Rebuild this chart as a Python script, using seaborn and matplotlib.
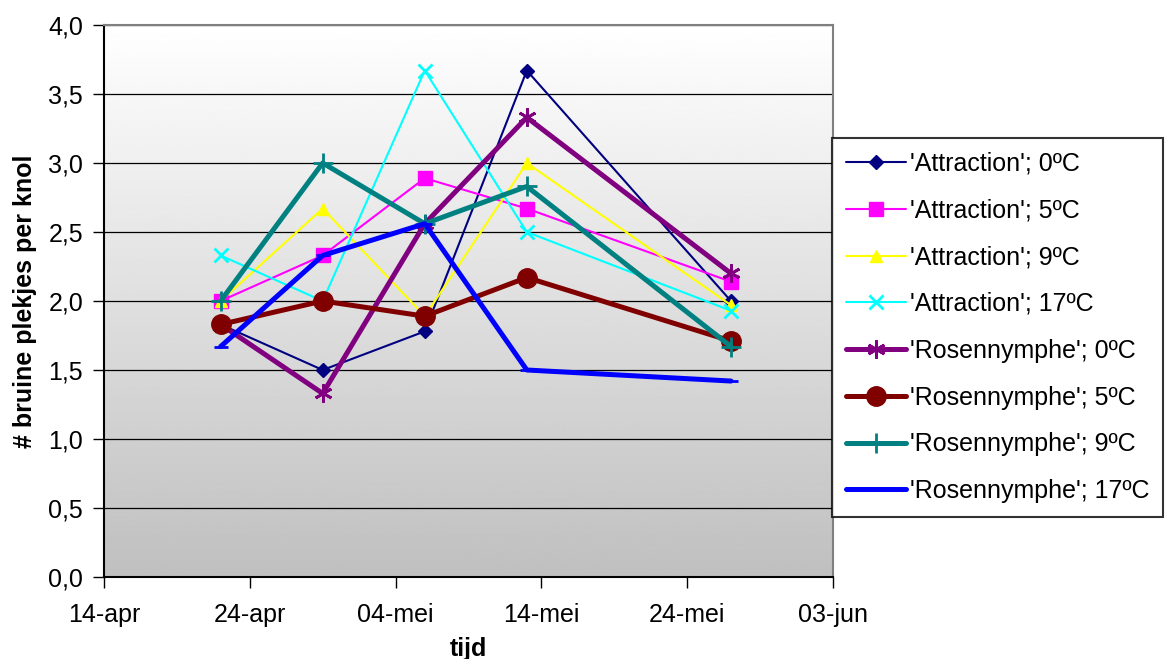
import numpy as np
import pandas as pd
import seaborn as sns
import matplotlib.pyplot as plt
from matplotlib.ticker import FuncFormatter, MultipleLocator

dates = pd.to_datetime(["2008-04-22", "2008-04-29", "2008-05-06", "2008-05-13", "2008-05-27"])

series_names = ["'Attraction'; 0ºC", "'Attraction'; 5ºC", "'Attraction'; 9ºC", "'Attraction'; 17ºC",
                "'Rosennymphe'; 0ºC", "'Rosennymphe'; 5ºC", "'Rosennymphe'; 9ºC", "'Rosennymphe'; 17ºC"]
attr_0 = [1.83, 1.50, 1.78, 3.67, 2.00]
attr_5 = [2.00, 2.33, 2.89, 2.67, 2.14]
attr_9 = [2.00, 2.67, 1.89, 3.00, 1.97]
attr_17 = [2.33, 2.00, 3.67, 2.50, 1.93]
rose_0 = [1.83, 1.33, 2.56, 3.33, 2.20]
rose_5 = [1.83, 2.00, 1.89, 2.17, 1.71]
rose_9 = [2.00, 3.00, 2.56, 2.83, 1.67]
rose_17 = [1.67, 2.33, 2.56, 1.50, 1.42]
values = [attr_0, attr_5, attr_9, attr_17, rose_0, rose_5, rose_9, rose_17]

colors = ["#000080", "#FF00FF", "#FFFF00", "#00FFFF", "#800080", "#800000", "#008080", "#0000FF"]
markers = ["D", "s", "^", "x", (6, 2, 0), "o", "+", "_"]
msizes = [7, 10, 9, 10, 13, 14, 14, 10]
lwidths = [1.5, 1.5, 1.5, 1.5, 3.6, 3.6, 3.6, 3.6]

sns.set_style("white")
plt.rcParams['font.family'] = ['Liberation Sans', 'DejaVu Sans']
plt.rcParams.update({"text.color": "black", "axes.labelcolor": "black",
                     "xtick.color": "black", "ytick.color": "black"})

fig = plt.figure(figsize=(11.69, 6.59), dpi=100)
ax = fig.add_axes([104 / 1169, 1 - 577 / 659, 729 / 1169, 552 / 659])

# gradient background of the plot area
grad = np.linspace(1.0, 0.75, 256).reshape(-1, 1)
ax.imshow(grad, cmap="gray", vmin=0, vmax=1, aspect="auto",
          extent=[0, 1, 0, 1], transform=ax.transAxes, zorder=0)

for name, vals, c, m, ms, lw in zip(series_names, values, colors, markers, msizes, lwidths):
    df = pd.DataFrame({"tijd": dates, "waarde": vals})
    sns.lineplot(data=df, x="tijd", y="waarde", ax=ax, color=c, lw=lw, marker=m,
                 markersize=ms, markeredgecolor=c, markerfacecolor=c,
                 markeredgewidth=2 if m in ["x", "+", "_"] or isinstance(m, tuple) else 1,
                 label=name, zorder=3)

ax.set_xlim(pd.Timestamp("2008-04-14"), pd.Timestamp("2008-06-03"))
ax.set_ylim(0, 4.0)
ax.yaxis.set_major_locator(MultipleLocator(0.5))
ax.yaxis.set_major_formatter(FuncFormatter(lambda v, p: f"{v:.1f}".replace(".", ",")))

tick_dates = pd.date_range("2008-04-14", "2008-06-03", freq="10D")
ax.set_xticks(tick_dates)
maanden = {4: "apr", 5: "mei", 6: "jun"}
ax.set_xticklabels([f"{d.day:02d}-{maanden[d.month]}" for d in tick_dates])

ax.grid(axis="y", color="black", lw=0.9, zorder=1)
ax.tick_params(axis="both", direction="out", length=8, width=1, color="black",
               labelsize=18, pad=7, bottom=True, left=True)
ax.tick_params(axis="x", pad=11)
for s in ["left", "bottom"]:
    ax.spines[s].set_color("black")
    ax.spines[s].set_linewidth(1.5)
for s in ["top", "right"]:
    ax.spines[s].set_color("#808080")
    ax.spines[s].set_linewidth(1.5)

ax.set_xlabel("tijd", fontsize=18, fontweight="bold", labelpad=7)
ax.set_ylabel("# bruine plekjes per knol", fontsize=18, fontweight="bold", labelpad=8)

leg = ax.legend(loc="upper left", bbox_to_anchor=(832 / 1169, 1 - 138 / 659),
                bbox_transform=fig.transFigure, fontsize=18, frameon=True, fancybox=False,
                edgecolor="black", labelspacing=0.91, handlelength=2.4, handletextpad=0.15,
                borderpad=0.55, borderaxespad=0)
leg.get_frame().set_linewidth(1.5)

fig.savefig("out.png", dpi=100)
